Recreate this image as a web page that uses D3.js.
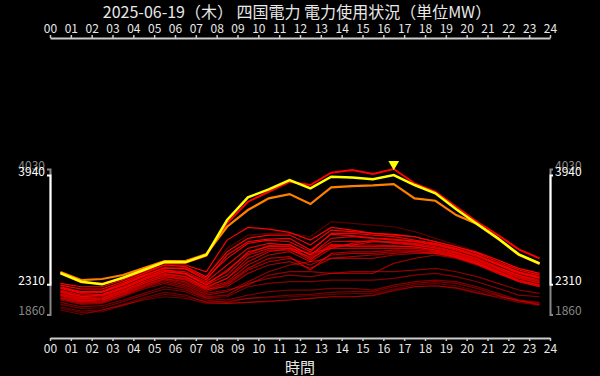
<!DOCTYPE html>
<html><head><meta charset="utf-8">
<script src="https://cdn.jsdelivr.net/npm/d3@7/dist/d3.min.js"></script>
<style>
body{margin:0;background:#000}
svg{display:block;background:#000}
text{font-family:"Noto Sans CJK JP","Noto Sans",sans-serif}
</style></head>
<body><svg id="c" width="600" height="376"></svg>
<script>
const title = "2025-06-19（木） 四国電力 電力使用状況（単位MW）";
const xTitle = "時間";
const times = ["00:30","01:30","02:30","03:30","04:30","05:30","06:30","07:30","08:30","09:30","10:30","11:30",
               "12:30","13:30","14:30","15:30","16:30","17:30","18:30","19:30","20:30","21:30","22:30","23:30"];
const hourLabels = ["00","01","02","03","04","05","06","07","08","09","10","11","12",
                    "13","14","15","16","17","18","19","20","21","22","23","24"];
const rangeAll = [1860, 4030];
const rangeToday = [2310, 3940];

// today's actual (yellow)
const today = [2478,2349,2310,2408,2523,2642,2638,2747,3269,3607,3726,3865,3741,3914,3905,3876,3940,3791,3667,3428,3209,2996,2757,2623];
// upper red line
const upper = [2470,2340,2320,2400,2515,2635,2630,2732,3224,3542,3691,3840,3791,3974,4014,3955,4030,3816,3691,3467,3243,3045,2832,2698];
// orange line
const previous = [2493,2374,2389,2449,2553,2656,2656,2760,3169,3418,3592,3656,3507,3756,3776,3786,3805,3592,3556,3343,3209,2990,2750,2615];

// past days (thin red lines)
const past01 = [2324,2274,2274,2374,2498,2598,2598,2498,2970,3159,3134,3085,2970,3159,3119,3070,3055,3020,2945,2871,2786,2672,2548,2473];
const past02 = [2299,2240,2240,2349,2473,2598,2573,2424,2796,2995,3045,3045,2896,3119,3095,3070,3045,3020,2945,2871,2771,2647,2523,2448];
const past03 = [2274,2200,2210,2324,2448,2548,2548,2399,2697,2920,2970,2945,2796,3070,3070,3045,3020,2970,2920,2846,2747,2622,2498,2424];
const past04 = [2250,2175,2190,2299,2424,2523,2498,2349,2598,2846,2920,2896,2747,2995,3020,2995,2970,2945,2896,2821,2722,2598,2473,2399];
const past05 = [2225,2150,2160,2274,2399,2523,2473,2324,2498,2796,2871,2871,2697,2871,2896,2945,2945,2920,2871,2796,2697,2573,2448,2374];
const past06 = [2200,2125,2140,2250,2374,2498,2473,2299,2448,2747,2846,2846,2771,2846,2920,2970,2920,2896,2846,2771,2672,2548,2424,2349];
const past07 = [2190,2110,2125,2240,2374,2473,2424,2274,2399,2647,2796,2846,2672,2896,2871,2871,2871,2871,2821,2747,2647,2523,2399,2324];
const past08 = [2160,2091,2100,2210,2349,2448,2399,2250,2349,2598,2747,2796,2647,2846,2846,2846,2846,2846,2806,2737,2637,2508,2374,2299];
const past09 = [2150,2076,2076,2190,2324,2424,2374,2225,2324,2548,2697,2722,2523,2771,2796,2796,2821,2821,2796,2722,2622,2498,2359,2289];
const past10 = [2125,2061,2076,2175,2299,2399,2349,2200,2299,2523,2647,2697,2598,2747,2771,2771,2796,2796,2771,2707,2608,2473,2349,2274];
const past11 = [2100,2041,2051,2150,2274,2374,2299,2150,2200,2349,2498,2598,2647,2697,2697,2697,2747,2771,2771,2722,2622,2498,2374,2299];
const past12 = [2110,2051,2061,2160,2289,2389,2324,2175,2225,2299,2448,2498,2498,2473,2473,2473,2622,2697,2747,2697,2598,2473,2349,2274];
const past13 = [2091,2026,2041,2140,2260,2349,2274,2125,2150,2324,2399,2448,2424,2473,2498,2498,2498,2523,2548,2498,2424,2324,2225,2175];
const past14 = [2076,2011,2026,2125,2240,2324,2250,2110,2125,2274,2324,2349,2349,2374,2374,2374,2399,2448,2473,2424,2349,2250,2150,2125];
const past15 = [2041,1976,1991,2076,2175,2274,2225,2100,2076,2150,2200,2225,2225,2250,2250,2225,2299,2349,2374,2349,2274,2175,2076,2041];
const past16 = [2011,1951,1961,2051,2150,2240,2200,2076,2041,2100,2125,2150,2160,2190,2200,2200,2274,2324,2349,2324,2250,2150,2061,2026];
const past17 = [1976,1912,1927,2011,2110,2190,2150,2041,2026,2041,2061,2076,2100,2125,2125,2140,2210,2274,2289,2260,2190,2110,2041,2001];
const past18 = [1927,1860,1927,2001,2076,2125,2100,2026,2026,2041,2051,2076,2100,2125,2125,2150,2225,2274,2289,2250,2175,2125,2076,2001];
const past19 = [1951,1892,1902,1991,2091,2160,2125,2051,2061,2100,2110,2125,2140,2160,2170,2175,2240,2299,2324,2289,2210,2140,2061,2011];
const past20 = [2260,2190,2200,2309,2439,2558,2538,2374,2747,2945,2985,2995,2821,3055,3035,3005,2985,2955,2906,2836,2737,2608,2488,2409];
const past21 = [2210,2130,2150,2260,2389,2498,2458,2299,2523,2771,2886,2906,2747,2945,2955,2945,2935,2906,2856,2786,2687,2558,2439,2359];
const past22 = [2170,2100,2110,2220,2349,2458,2424,2260,2399,2697,2821,2821,2722,2906,2896,2896,2886,2866,2826,2757,2657,2538,2409,2334];
const past23 = [2140,2071,2091,2200,2324,2424,2389,2240,2274,2473,2598,2647,2548,2697,2722,2747,2771,2796,2786,2717,2618,2488,2359,2289];
const past24 = [2299,2240,2240,2349,2473,2573,2558,2424,2846,3045,3070,3070,3020,3244,3219,3194,3169,3095,2995,2896,2796,2672,2538,2458];

const pastDays = [past24,past19,past18,past17,past16,past15,past14,past13,past12,past11,past23,past10,past09,past08,
                  past22,past07,past06,past21,past05,past04,past03,past20,past02,past01];

const svg = d3.select("#c");
const x = d3.scaleLinear().domain([0, 24]).range([50, 550]);
const y = d3.scaleLinear().domain(rangeAll).range([314.5, 169]);
const hourOf = t => { const [h, m] = t.split(":").map(Number); return h + m / 60; };

const line = d3.line().x((d, i) => x(hourOf(times[i]))).y(d => y(d));

// title
svg.append("text").attr("x", 297).attr("y", 18).attr("text-anchor", "middle")
  .attr("fill", "#e8e8e8").attr("font-size", 16).text(title);

// x axes
const xAxisTop = d3.axisTop(x).tickValues(d3.range(hourLabels.length)).tickFormat(i => hourLabels[i])
  .tickSize(3).tickSizeOuter(0).tickPadding(2);
const xAxisBottom = d3.axisBottom(x).tickValues(d3.range(hourLabels.length)).tickFormat(i => hourLabels[i])
  .tickSize(3).tickSizeOuter(0).tickPadding(3);
function styleX(g) {
  g.select(".domain").attr("stroke", "#ccc").attr("stroke-width", 2);
  g.selectAll(".tick line").attr("stroke", "#ccc").attr("stroke-width", 1.5);
  g.selectAll(".tick text").attr("fill", "#e8e8e8").attr("font-size", 12);
}
svg.append("g").attr("transform", "translate(0,38)").call(xAxisTop).call(styleX);
svg.append("g").attr("transform", "translate(0,338)").call(xAxisBottom).call(styleX);

svg.append("text").attr("x", 300).attr("y", 373).attr("text-anchor", "middle")
  .attr("fill", "#e8e8e8").attr("font-size", 15).text(xTitle);

// y axes (two bracket ranges on each side)
function yAxis(side, dom, color, px) {
  const s = y.copy().domain(dom).range([y(dom[0]), y(dom[1])]);
  const ax = (side === "left" ? d3.axisLeft(s) : d3.axisRight(s))
    .tickValues(dom).tickSize(0).tickSizeOuter(3).tickPadding(5).tickFormat(d3.format("d"));
  const g = svg.append("g").attr("transform", `translate(${px},0)`).call(ax);
  g.select(".domain").attr("stroke", color).attr("stroke-width", 2);
  g.selectAll(".tick text").attr("fill", color).attr("font-size", 12).attr("dy", "0em");
}
yAxis("left", rangeAll, "#888", 50);
yAxis("left", rangeToday, "#fff", 50);
yAxis("right", rangeAll, "#888", 550);
yAxis("right", rangeToday, "#fff", 550);

// past days
const n = pastDays.length;
svg.append("g").selectAll("path").data(pastDays).join("path")
  .attr("d", line).attr("fill", "none")
  .attr("stroke", "#ff0000")
  .attr("stroke-opacity", (d, i) => 0.35 + 0.65 * i / (n - 1))
  .attr("stroke-width", 1.2);

svg.append("path").datum(upper).attr("d", line).attr("fill", "none")
  .attr("stroke", "#ff0000").attr("stroke-width", 2);
svg.append("path").datum(previous).attr("d", line).attr("fill", "none")
  .attr("stroke", "#ff8000").attr("stroke-width", 2.2);
svg.append("path").datum(today).attr("d", line).attr("fill", "none")
  .attr("stroke", "#ffff00").attr("stroke-width", 2.5);

// peak marker
const peakIdx = upper.indexOf(d3.max(upper));
const px = x(hourOf(times[peakIdx])), py = y(upper[peakIdx]);
svg.append("path").attr("d", d3.symbol(d3.symbolTriangle, 50)())
  .attr("transform", `translate(${px},${py - 5}) rotate(180)`)
  .attr("fill", "#ffff00");
</script></body></html>
